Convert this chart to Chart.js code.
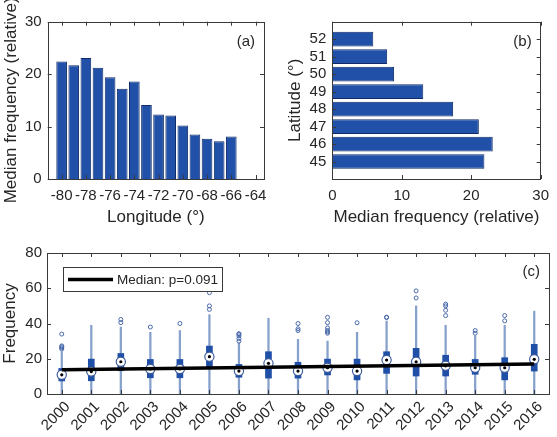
<!DOCTYPE html>
<html>
<head>
<meta charset="utf-8">
<script src="https://cdn.jsdelivr.net/npm/chart.js@4.4.1/dist/chart.umd.min.js"></script>
<style>
  body { margin: 0; background: #fff; }
  #wrap { position: relative; width: 557px; height: 437px; overflow: hidden; }
  canvas { position: absolute; }
</style>
</head>
<body>
<div id="wrap">
  <canvas id="lonChart" width="280" height="230" style="left:0;top:0"></canvas>
  <canvas id="latChart" width="277" height="230" style="left:280px;top:0"></canvas>
  <canvas id="yearChart" width="557" height="207" style="left:0;top:230px"></canvas>
</div>
<script>
// ---------- DATA ----------
// (a) median frequency by longitude
const longitudes = [-80, -79, -78, -77, -76, -75, -74, -73, -72, -71, -70, -69, -68, -67, -66];
const lonMedian = [22.4, 21.7, 23.1, 21.2, 19.4, 17.2, 18.6, 14.1, 12.3, 12.1, 10.2, 8.5, 7.7, 7.2, 8.1];
const lonTicks = [-80, -78, -76, -74, -72, -70, -68, -66, -64];
const freqTicks = [0, 10, 20, 30];

// (b) median frequency by latitude
const latitudes = [45, 46, 47, 48, 49, 50, 51, 52];
const latMedian = [21.9, 23.1, 21.1, 17.4, 13.1, 8.9, 7.9, 5.9];

// (c) yearly box plots
const years = ["2000","2001","2002","2003","2004","2005","2006","2007","2008","2009","2010","2011","2012","2013","2014","2015","2016"];
const q1 = [7.4, 7.5, 13.2, 9.2, 9.2, 15.5, 9.5, 9.0, 9.0, 10.8, 8.0, 11.7, 10.2, 10.2, 11.2, 8.0, 13.0];
const q3 = [14.5, 19.8, 23.0, 19.6, 19.6, 27.2, 16.8, 24.0, 18.0, 19.8, 19.8, 24.0, 25.9, 22.0, 19.6, 20.6, 28.2];
const medians = [10.9, 12.7, 18.3, 14.2, 14.2, 21.2, 13.0, 17.4, 13.0, 14.9, 13.0, 19.3, 18.3, 16.0, 14.9, 14.9, 19.7];
const whiskLow = [0, 0, 0, 0, 0, 0, 0, 0, 0, 0, 0, 0, 0, 0, 0, 0, 0];
const whiskHigh = [24, 39, 38, 35, 36, 45, 29, 43, 31, 30, 35, 41.4, 50, 39, 33, 39, 47];
const outliers = [
  [25.5, 26.2, 26.8, 27.3, 34], [], [40.5, 42.3], [38], [40], [48, 50, 57.5],
  [30, 31.5, 33, 34, 34.2], [], [36, 37, 40], [34.5, 35.2, 36, 37.5, 40.5, 43.5],
  [40.4], [43.4, 43.6], [54.5, 58.5], [44.5, 47.5, 50, 51], [34.5, 36], [41.5, 44.5], []
];
const trendYears = ["2000", "2016"];
const trendValues = [13.8, 17.0];
const trendLabel = "Median: p=0.091";
const countTicks = [0, 20, 40, 60, 80];

// ---------- STYLE ----------
const FONT = "'Liberation Sans', Arial, sans-serif";
const INK = "#262626";
const BAR = "#2150a8";
const BAR_EDGE = "#0f2a66";
Chart.defaults.font.family = FONT;
Chart.defaults.color = INK;
Chart.defaults.animation = false;
Chart.defaults.plugins.tooltip.enabled = false;
Chart.defaults.plugins.legend.display = false;

// frame + inward tick marks, matlab style
const framePlugin = {
  id: "frame",
  afterDatasetsDraw(chart, args, opts) {
    const { ctx, chartArea: a } = chart;
    ctx.save();
    ctx.strokeStyle = "#3a3a3a";
    ctx.lineWidth = 1;
    ctx.strokeRect(Math.round(a.left) + 0.5, Math.round(a.top) + 0.5, Math.round(a.right - a.left), Math.round(a.bottom - a.top));
    ctx.beginPath();
    Object.values(chart.scales).forEach(s => {
      s.ticks.forEach((t, i) => {
        const p = Math.round(s.getPixelForTick(i)) + 0.5;
        if (s.isHorizontal()) {
          ctx.moveTo(p, a.bottom); ctx.lineTo(p, a.bottom - 4);
          ctx.moveTo(p, a.top); ctx.lineTo(p, a.top + 4);
        } else {
          ctx.moveTo(a.left, p); ctx.lineTo(a.left + 4, p);
          ctx.moveTo(a.right, p); ctx.lineTo(a.right - 4, p);
        }
      });
    });
    ctx.stroke();
    if (opts.label) {
      ctx.fillStyle = INK;
      ctx.font = "15px " + FONT;
      ctx.textAlign = "right";
      ctx.textBaseline = "middle";
      ctx.fillText(opts.label, a.right - 9, a.top + opts.labelY);
    }
    ctx.restore();
  }
};

const tickFont = { size: 15 };
const titleFont = { size: 17 };
const noGrid = { display: false, drawTicks: false };
const fixTicks = list => s => { s.ticks = list.map(v => ({ value: v })); };

// ---------- (a) LONGITUDE ----------
new Chart(document.getElementById("lonChart"), {
  type: "bar",
  data: {
    datasets: [{
      data: longitudes.map((x, i) => ({ x, y: lonMedian[i] })),
      backgroundColor: BAR, borderColor: BAR_EDGE, borderWidth: 1,
      barPercentage: 0.88, categoryPercentage: 1
    }]
  },
  options: {
    responsive: false,
    layout: { padding: { top: 21.7, right: 16, left: 0, bottom: 0 } },
    scales: {
      x: {
        type: "linear", min: -81.15, max: -63.3, offset: false,
        grid: noGrid, border: { display: false },
        afterBuildTicks: fixTicks(lonTicks),
        afterFit: s => { s.height = 51; },
        ticks: { font: tickFont, padding: 8, maxRotation: 0, autoSkip: false },
        title: { display: true, text: "Longitude (°)", font: titleFont, padding: { top: 0, bottom: 2 } }
      },
      y: {
        min: 0, max: 30, grid: noGrid, border: { display: false },
        afterBuildTicks: fixTicks(freqTicks),
        afterFit: s => { s.width = 47.7; },
        ticks: { font: tickFont, padding: 6 },
        title: { display: true, text: "Median frequency (relative)", font: titleFont, padding: { top: 1, bottom: 0 } }
      }
    },
    plugins: { frame: { label: "(a)", labelY: 20 } }
  },
  plugins: [framePlugin]
});

// ---------- (b) LATITUDE ----------
new Chart(document.getElementById("latChart"), {
  type: "bar",
  data: {
    datasets: [{
      data: latitudes.map((y, i) => ({ x: latMedian[i], y })),
      backgroundColor: BAR, borderColor: BAR_EDGE, borderWidth: 1,
      barPercentage: 0.84, categoryPercentage: 1
    }]
  },
  options: {
    responsive: false,
    indexAxis: "y",
    layout: { padding: { top: 21.7, right: 8.3, left: 0, bottom: 0 } },
    scales: {
      x: {
        min: 0, max: 30, grid: noGrid, border: { display: false },
        afterBuildTicks: fixTicks(freqTicks),
        afterFit: s => { s.height = 51; },
        ticks: { font: tickFont, padding: 8, maxRotation: 0 },
        title: { display: true, text: "Median frequency (relative)", font: titleFont, padding: { top: 0, bottom: 2 } }
      },
      y: {
        type: "linear", min: 44, max: 53, offset: false,
        grid: noGrid, border: { display: false },
        afterBuildTicks: fixTicks(latitudes),
        afterFit: s => { s.width = 52.3; },
        ticks: { font: tickFont, padding: 6 },
        title: { display: true, text: "Latitude (°)", font: titleFont, padding: { top: 5, bottom: 0 } }
      }
    },
    plugins: { frame: { label: "(b)", labelY: 20 } }
  },
  plugins: [framePlugin]
});

// ---------- (c) YEARLY BOXES ----------
const outlierPts = [];
outliers.forEach((vals, i) => vals.forEach(v => outlierPts.push({ x: years[i], y: v })));

// legend drawn inside the axes, top left
const legendPlugin = {
  id: "boxLegend",
  afterDatasetsDraw(chart) {
    const { ctx, chartArea: a } = chart;
    const x0 = a.left + 16, y0 = a.top + 14, w = 159, h = 24;
    ctx.save();
    ctx.fillStyle = "#fff";
    ctx.fillRect(x0, y0, w, h);
    ctx.strokeStyle = "#3a3a3a";
    ctx.lineWidth = 1;
    ctx.strokeRect(x0 + 0.5, y0 + 0.5, w, h);
    ctx.strokeStyle = "#000";
    ctx.lineWidth = 3.5;
    ctx.beginPath();
    ctx.moveTo(x0 + 5, y0 + h / 2 + 0.5);
    ctx.lineTo(x0 + 50, y0 + h / 2 + 0.5);
    ctx.stroke();
    ctx.fillStyle = INK;
    ctx.font = "13.5px " + FONT;
    ctx.textBaseline = "middle";
    ctx.fillText(trendLabel, x0 + 54, y0 + h / 2 + 1);
    ctx.restore();
  }
};

new Chart(document.getElementById("yearChart"), {
  type: "bar",
  data: {
    labels: years,
    datasets: [
      {
        type: "line", label: trendLabel, order: 0,
        data: trendYears.map((x, i) => ({ x, y: trendValues[i] })),
        borderColor: "#000", borderWidth: 3.5, pointRadius: 0, fill: false
      },
      {
        type: "line", order: 1, showLine: false,
        data: medians, pointRadius: 1.6, pointBackgroundColor: "#000", pointBorderWidth: 0
      },
      {
        type: "line", order: 2, showLine: false,
        data: medians, pointRadius: 4.6, pointBackgroundColor: "#fff",
        pointBorderColor: "#3d5c9c", pointBorderWidth: 1.2
      },
      {
        type: "line", order: 3, showLine: false,
        data: outlierPts, pointRadius: 2, pointBackgroundColor: "rgba(255,255,255,0)",
        pointBorderColor: "#4868aa", pointBorderWidth: 1
      },
      {
        order: 4, grouped: false,
        data: years.map((y, i) => [q1[i], q3[i]]),
        backgroundColor: "#1f4fa6", barThickness: 6, borderWidth: 0
      },
      {
        order: 5, grouped: false,
        data: years.map((y, i) => [whiskLow[i], whiskHigh[i]]),
        backgroundColor: "#86a1cc", barThickness: 1.6, borderWidth: 0
      }
    ]
  },
  options: {
    responsive: false,
    layout: { padding: { top: 23, right: 8, left: 0, bottom: 0 } },
    scales: {
      x: {
        grid: noGrid, border: { display: false },
        afterFit: s => { s.height = 43; },
        ticks: { font: tickFont, padding: 4, labelOffset: 6, maxRotation: 45, minRotation: 45, autoSkip: false }
      },
      y: {
        min: 0, max: 80, grid: noGrid, border: { display: false },
        afterBuildTicks: fixTicks(countTicks),
        afterFit: s => { s.width = 47; },
        ticks: { font: tickFont, padding: 5 },
        title: { display: true, text: "Frequency", font: titleFont, padding: { top: 0, bottom: 0 } }
      }
    },
    plugins: { frame: { label: "(c)", labelY: 19 } }
  },
  plugins: [framePlugin, legendPlugin]
});
</script>
</body>
</html>
